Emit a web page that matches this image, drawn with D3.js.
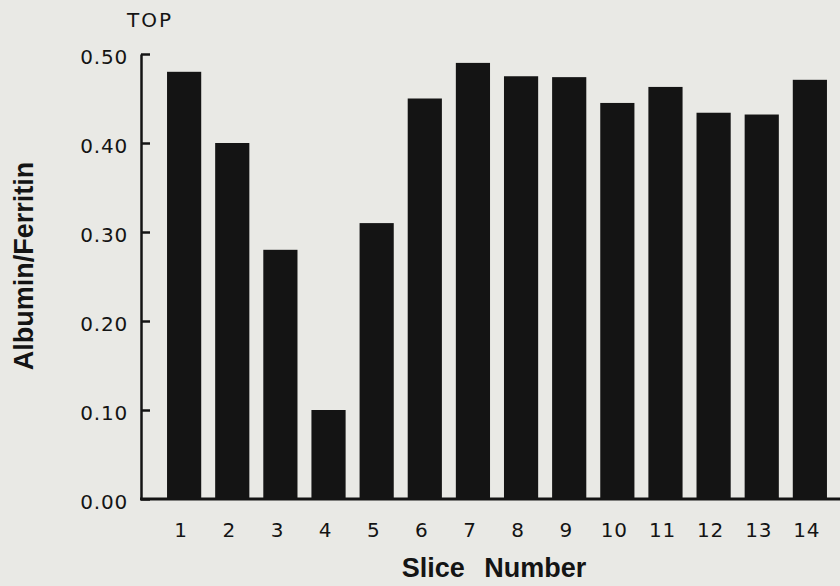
<!DOCTYPE html>
<html>
<head>
<meta charset="utf-8">
<script src="https://cdn.jsdelivr.net/npm/d3@7/dist/d3.min.js"></script>
<style>
  html, body { margin: 0; padding: 0; background: #e9e9e5; }
  svg { display: block; }
</style>
</head>
<body>
<svg id="chart" width="840" height="586"></svg>
<script>
// Albumin/Ferritin ratio per gel slice
const slices = ["1","2","3","4","5","6","7","8","9","10","11","12","13","14"];
const ratios = [0.48, 0.40, 0.28, 0.10, 0.31, 0.45, 0.49, 0.475, 0.474, 0.445, 0.463, 0.434, 0.432, 0.471];
const yTicks = [0, 0.1, 0.2, 0.3, 0.4, 0.5];

const ink = "#141414";
const tickFont = "'DejaVu Sans', sans-serif";
const titleFont = "'Liberation Sans', Arial, sans-serif";

const svg = d3.select("#chart");
svg.append("rect").attr("width", 840).attr("height", 586).attr("fill", "#e9e9e5");

const axisX = 141, baseY = 499, topY = 54;

const x = d3.scaleBand().domain(slices).range([155, 839]).paddingInner(0.29).paddingOuter(0.25);
const y = d3.scaleLinear().domain([0, 0.5]).range([baseY, topY]);

// bars
svg.append("g").selectAll("rect").data(ratios).join("rect")
  .attr("x", (d, i) => x(slices[i]))
  .attr("y", d => y(d))
  .attr("width", x.bandwidth())
  .attr("height", d => y(0) - y(d))
  .attr("fill", ink);

// y axis with inward ticks
const yAxis = d3.axisLeft(y).tickValues(yTicks).tickFormat(d3.format(".2f"))
  .tickSizeInner(-9).tickSizeOuter(0).tickPadding(13);
const gy = svg.append("g").attr("transform", `translate(${axisX},0)`).call(yAxis);
gy.select(".domain").attr("stroke", ink).attr("stroke-width", 2.5);
gy.selectAll(".tick line").attr("stroke", ink).attr("stroke-width", 2.5);
gy.selectAll(".tick text")
  .attr("fill", ink)
  .attr("font-family", tickFont)
  .attr("font-size", 20)
  .attr("letter-spacing", 0.8)
  .attr("dy", "0.45em");

// x axis: baseline and slice labels
const xAxis = d3.axisBottom(x).tickSize(0).tickPadding(24);
const gx = svg.append("g").attr("transform", `translate(0,${baseY})`).call(xAxis);
gx.select(".domain").remove();
gx.selectAll(".tick text")
  .attr("fill", ink)
  .attr("font-family", tickFont)
  .attr("font-size", 20)
  .attr("letter-spacing", 0.8)
  .attr("dx", -3);

svg.append("line")
  .attr("x1", axisX - 1).attr("x2", 840)
  .attr("y1", baseY).attr("y2", baseY)
  .attr("stroke", ink).attr("stroke-width", 3);

// titles
svg.append("text")
  .attr("x", 150).attr("y", 27)
  .attr("text-anchor", "middle")
  .attr("font-family", tickFont).attr("font-size", 20).attr("letter-spacing", 2)
  .attr("fill", ink)
  .text("TOP");

svg.append("text")
  .attr("x", 494).attr("y", 577)
  .attr("text-anchor", "middle")
  .attr("font-family", titleFont).attr("font-weight", "bold").attr("font-size", 27)
  .attr("word-spacing", 12)
  .attr("fill", ink)
  .text("Slice Number");

svg.append("text")
  .attr("transform", "translate(33,266) rotate(-90)")
  .attr("text-anchor", "middle")
  .attr("font-family", titleFont).attr("font-weight", "bold").attr("font-size", 27)
  .attr("fill", ink)
  .text("Albumin/Ferritin");
</script>
</body>
</html>
